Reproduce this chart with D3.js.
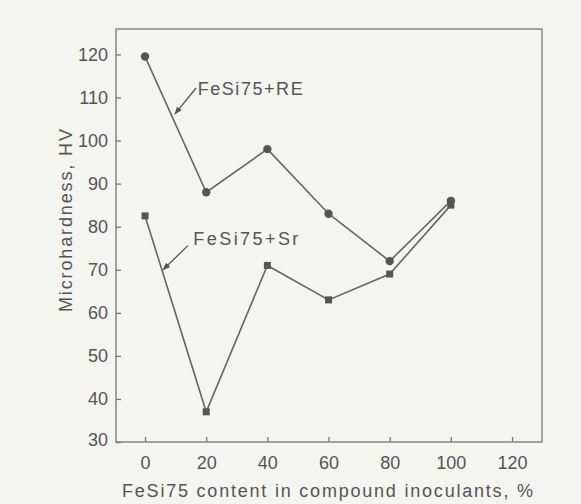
<html>
<head>
<script src="https://d3js.org/d3.v7.min.js"></script>
<style>
    body { margin: 0; background: #f4f4f1; }
    text { font-family: "Liberation Sans", Arial, sans-serif; fill: #555; }
</style>
</head>
<body>
<svg id="chart" width="581" height="504">
    <defs>
        <marker id="head" markerWidth="8" markerHeight="6" refX="7" refY="3" orient="auto" markerUnits="userSpaceOnUse">
            <path d="M 0 0 L 8 3 L 0 6 Z" fill="#555" />
        </marker>
    </defs>
</svg>
<script>
    // data
    const content = [0, 20, 40, 60, 80, 100];
    const reValues = [119.5, 88, 98, 83, 72, 86];
    const srValues = [82.5, 37, 71, 63, 69, 85];
    const xTicks = [0, 20, 40, 60, 80, 100, 120];
    const yTicks = [30, 40, 50, 60, 70, 80, 90, 100, 110, 120];

    const svg = d3.select("#chart");
    const margin = { top: 29, right: 39, bottom: 62, left: 116 };
    const width = 581, height = 504;
    const chartWidth = width - margin.left - margin.right;
    const chartHeight = height - margin.top - margin.bottom;

    const xScale = d3.scaleLinear().domain([-9.5, 129.8]).range([0, chartWidth]);
    const yScale = d3.scaleLinear().domain([30, 125.9]).range([chartHeight, 0]);

    const g = svg.append("g").attr("transform", `translate(${margin.left},${margin.top})`);

    // frame
    g.append("rect")
        .attr("width", chartWidth).attr("height", chartHeight)
        .attr("fill", "none").attr("stroke", "#777").attr("stroke-width", 1.3);

    // axes with inward ticks
    const bottomAxis = d3.axisBottom(xScale).tickValues(xTicks).tickSizeInner(-5).tickSizeOuter(0).tickPadding(14);
    const gx = g.append("g").attr("transform", `translate(0,${chartHeight})`).call(bottomAxis);
    const leftAxis = d3.axisLeft(yScale).tickValues(yTicks).tickSizeInner(-5).tickSizeOuter(0).tickPadding(8);
    const gy = g.append("g").call(leftAxis);
    [gx, gy].forEach(a => {
        a.select(".domain").remove();
        a.selectAll("line").attr("stroke", "#777").attr("stroke-width", 1.3);
        a.selectAll("text").style("font-size", "18px").attr("fill", "#555")
            .style("font-family", "Liberation Sans, Arial, sans-serif");
    });
    gy.selectAll(".tick").filter(d => d === 30).select("text").attr("dy", "0.2em");

    // axis titles
    svg.append("text")
        .attr("x", 122).attr("y", 497)
        .attr("textLength", 411).attr("lengthAdjust", "spacing")
        .style("font-size", "18px")
        .text("FeSi75 content in compound inoculants, %");
    svg.append("text")
        .attr("transform", "translate(72,312) rotate(-90)")
        .attr("textLength", 183).attr("lengthAdjust", "spacing")
        .style("font-size", "18px")
        .text("Microhardness, HV");

    const line = d3.line().x(d => xScale(d[0])).y(d => yScale(d[1]));
    const reData = content.map((c, i) => [c, reValues[i]]);
    const srData = content.map((c, i) => [c, srValues[i]]);

    g.append("path").datum(reData).attr("d", line)
        .attr("fill", "none").attr("stroke", "#666").attr("stroke-width", 1.6);
    g.append("path").datum(srData).attr("d", line)
        .attr("fill", "none").attr("stroke", "#666").attr("stroke-width", 1.6);

    g.selectAll("circle.re").data(reData).join("circle")
        .attr("class", "re")
        .attr("cx", d => xScale(d[0])).attr("cy", d => yScale(d[1]))
        .attr("r", 4.2).attr("fill", "#555");
    g.selectAll("rect.sr").data(srData).join("rect")
        .attr("class", "sr")
        .attr("x", d => xScale(d[0]) - 3.5).attr("y", d => yScale(d[1]) - 3.5)
        .attr("width", 7).attr("height", 7).attr("fill", "#555");

    // annotations (data units)
    const notes = [
        { label: "FeSi75+RE", tx: 17.2, ty: 110.6, from: [16.7, 112.2], to: [9.8, 106.2] },
        { label: "FeSi75+Sr", tx: 15.8, ty: 75.8, from: [14, 75.6], to: [5.9, 70] }
    ];
    notes.forEach(n => {
        g.append("line")
            .attr("x1", xScale(n.from[0])).attr("y1", yScale(n.from[1]))
            .attr("x2", xScale(n.to[0])).attr("y2", yScale(n.to[1]))
            .attr("stroke", "#555").attr("stroke-width", 1.3)
            .attr("marker-end", "url(#head)");
        g.append("text")
            .attr("x", xScale(n.tx)).attr("y", yScale(n.ty))
            .attr("textLength", 105).attr("lengthAdjust", "spacing")
            .style("font-size", "18px")
            .text(n.label);
    });
</script>
</body>
</html>
